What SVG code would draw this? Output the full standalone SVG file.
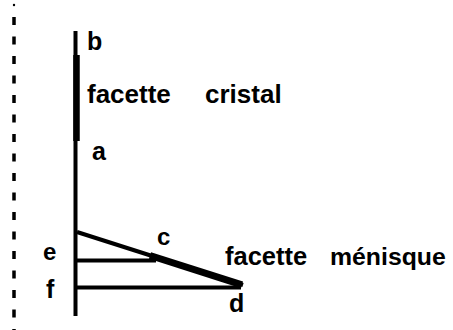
<svg xmlns="http://www.w3.org/2000/svg" width="453" height="330" viewBox="0 0 453 330">
<style>
.t{font-family:"Liberation Sans",Arial,sans-serif;font-weight:bold;fill:#000}
.ln{stroke:#000;fill:none}
</style>
<rect width="453" height="330" fill="#fff"/>
<g id="border">
<circle cx="14" cy="5" r="1.2" fill="#000"/>
<line class="ln" x1="14" y1="17" x2="14" y2="330" stroke-width="3.5" stroke-dasharray="8 11.5"/>
</g>
<g id="connectors">
<line class="ln" x1="75.5" y1="31" x2="75.5" y2="316" stroke-width="4"/>
<line class="ln" x1="76.5" y1="55" x2="76.5" y2="141" stroke-width="6.5"/>
<line class="ln" x1="77" y1="232" x2="243" y2="285" stroke-width="4"/>
<line class="ln" x1="150" y1="255.5" x2="242" y2="284.8" stroke-width="7"/>
<line class="ln" x1="77" y1="260.5" x2="156" y2="260.5" stroke-width="4"/>
<line class="ln" x1="77" y1="287.5" x2="241" y2="287.5" stroke-width="4"/>
</g>
<g id="node-b"><text class="t" x="87" y="50" font-size="25">b</text></g>
<g id="node-facette-cristal"><text class="t" x="87" y="103" font-size="26">facette</text><text class="t" x="205" y="103" font-size="26">cristal</text></g>
<g id="node-a"><text class="t" x="92" y="160" font-size="25">a</text></g>
<g id="node-c"><text class="t" x="157" y="245" font-size="24">c</text></g>
<g id="node-e"><text class="t" x="43" y="260" font-size="24">e</text></g>
<g id="node-f"><text class="t" x="46" y="298" font-size="25">f</text></g>
<g id="node-d"><text class="t" x="229" y="312" font-size="25">d</text></g>
<g id="node-facette-menisque"><text class="t" x="225" y="265" font-size="25.5">facette</text><text class="t" x="330" y="265" font-size="24.8">ménisque</text></g>
</svg>
